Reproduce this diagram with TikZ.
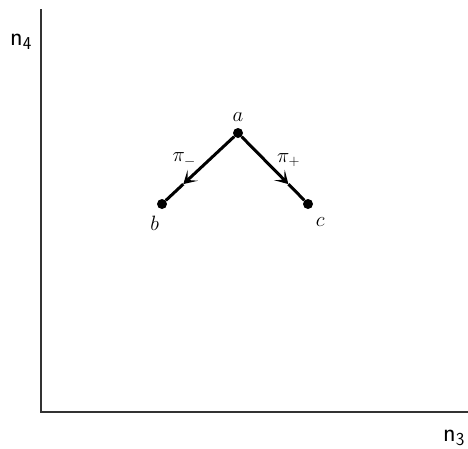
\documentclass[tikz,border=0pt]{standalone}
\usepackage{amsmath}
\usetikzlibrary{positioning, calc, arrows.meta}

\begin{document}
\begin{tikzpicture}[x=1pt, y=-1pt,
    dot/.style={circle, fill=black, inner sep=0pt, minimum size=10pt},
    ptlabel/.style={font=\fontsize{20}{22}\selectfont, inner sep=0pt},
    axlabel/.style={font=\sffamily\fontsize{26}{28}\selectfont, inner sep=0pt},
    flow/.style={line width=3pt},
    flowtip/.style={line width=3pt, -{Stealth[length=13pt,width=15pt,inset=7pt]}}]
    % Frame
    \useasboundingbox (0,0) rectangle (468,448);

    % Axes
    \coordinate (O) at (41,412);
    \coordinate (ytop) at (41,9);
    \coordinate (xend) at (468,412);
    \draw[line width=1.5pt, black!80] (ytop) -- (O) -- (xend);
    \node[axlabel] (nfour) at (21,42) {n$_{\text{\sffamily 4}}$};
    \node[axlabel, anchor=west] (nthree) at (443,438) {n$_{\text{\sffamily 3}}$};

    % States
    \node[dot] (a) at (238,133) {};
    \node[dot] (b) at (162,204) {};
    \node[dot] (c) at (308,204) {};
    \node[ptlabel, above=6pt of a] (alab) {$a$};
    \node[ptlabel, below left=8pt and -1pt of b] (blab) {$b$};
    \node[ptlabel, below right=10pt and 4pt of c] (clab) {$c$};

    % Transitions
    \coordinate (mminus) at ($(a)!0.72!(b)$);
    \coordinate (mplus) at ($(a)!0.72!(c)$);
    \draw[flowtip] (a) -- (mminus);
    \draw[flow] (mminus) -- (b);
    \draw[flowtip] (a) -- (mplus);
    \draw[flow] (mplus) -- (c);
    \node[ptlabel, above left=2pt and 4pt] (piminus) at ($(a)!0.5!(b)$) {$\pi_{-}$};
    \node[ptlabel, above right=2pt and 4pt] (piplus) at ($(a)!0.5!(c)$) {$\pi_{+}$};
\end{tikzpicture}
\end{document}
